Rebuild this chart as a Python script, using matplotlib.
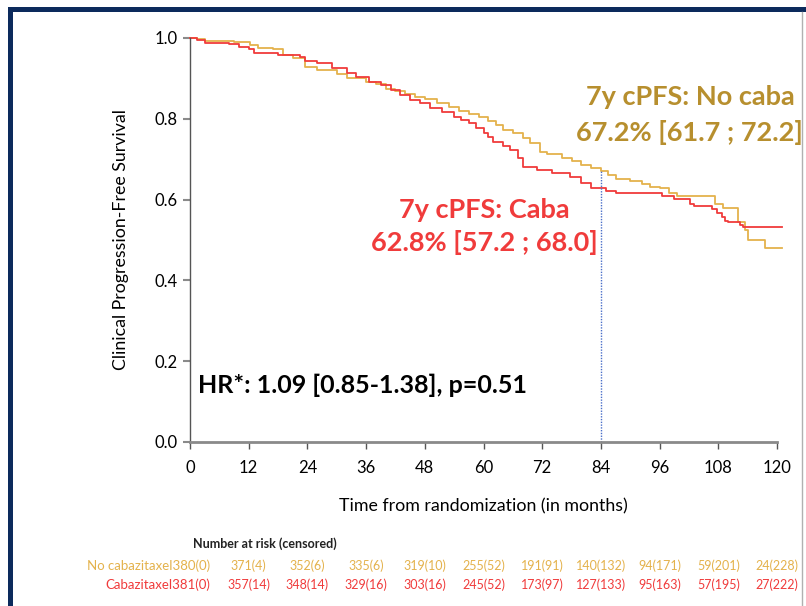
import matplotlib
matplotlib.use("Agg")
import matplotlib.pyplot as plt
from matplotlib.patches import Rectangle
from matplotlib.lines import Line2D

plt.rcParams['font.family'] = ['Lato', 'DejaVu Sans']

# --- data ---
no_caba_t = [0, 1.5, 3, 9, 12.3, 14, 17, 19, 21, 23.5, 26, 30, 32, 36, 38, 40, 42, 44, 46, 48,
             50.5, 53, 55, 57, 59, 61, 62.5, 64, 66, 68, 69.5, 71.5, 73, 76, 78, 80, 82, 84,
             85.5, 87, 90, 92.5, 94, 96, 98, 99.5, 107.3, 109, 112, 113.5, 114, 117.5, 121]
no_caba_s = [1.0, 0.997, 0.993, 0.991, 0.983, 0.975, 0.972, 0.958, 0.95, 0.928, 0.92, 0.912, 0.90,
             0.89, 0.885, 0.875, 0.868, 0.862, 0.855, 0.848, 0.84, 0.83, 0.82, 0.812, 0.805, 0.795,
             0.785, 0.772, 0.765, 0.752, 0.74, 0.718, 0.712, 0.703, 0.695, 0.686, 0.678, 0.672,
             0.66, 0.65, 0.645, 0.638, 0.632, 0.628, 0.616, 0.609, 0.59, 0.578, 0.545, 0.525,
             0.50, 0.48, 0.48]

caba_t = [0, 1.5, 3, 8, 10, 12, 13, 18, 22.5, 23.5, 26, 29, 32, 34, 36.5, 39, 41, 43, 45, 47, 49,
          51.5, 54, 55.5, 57, 58.5, 60, 61, 62, 64, 65.4, 67, 68, 71, 74, 77.7, 80, 82, 85, 87,
          96.5, 99, 102.3, 103, 106.7, 107.7, 108.7, 109.4, 110, 112.5, 113, 121]
caba_s = [1.0, 0.995, 0.988, 0.985, 0.978, 0.973, 0.964, 0.958, 0.954, 0.944, 0.937, 0.926, 0.914,
          0.904, 0.892, 0.884, 0.871, 0.86, 0.847, 0.838, 0.827, 0.817, 0.805, 0.798, 0.79, 0.778,
          0.765, 0.755, 0.743, 0.733, 0.723, 0.703, 0.681, 0.673, 0.666, 0.656, 0.64, 0.628,
          0.621, 0.616, 0.609, 0.601, 0.59, 0.584, 0.577, 0.567, 0.557, 0.547, 0.545, 0.537,
          0.532, 0.532]

landmark_month = 84
landmark_no_caba = 0.672

x_ticks = [0, 12, 24, 36, 48, 60, 72, 84, 96, 108, 120]
y_ticks = [0.0, 0.2, 0.4, 0.6, 0.8, 1.0]

risk_no_caba = ["371(4)", "352(6)", "335(6)", "319(10)", "255(52)", "191(91)",
                "140(132)", "94(171)", "59(201)", "24(228)"]
risk_caba = ["357(14)", "348(14)", "329(16)", "303(16)", "245(52)", "173(97)",
             "127(133)", "95(163)", "57(195)", "27(222)"]

GOLD = '#E4B24C'
GOLD_DARK = '#B78F2E'
RED = '#F03B3B'

fig = plt.figure(figsize=(8.06, 6.06), dpi=100)
ax = fig.add_axes([190 / 806, 1 - 442 / 606, (777 - 190) / 806, (442 - 38) / 606])

ax.step(no_caba_t, no_caba_s, where='post', color=GOLD, lw=1.3, clip_on=False)
ax.step(caba_t, caba_s, where='post', color=RED, lw=1.3, clip_on=False)
ax.plot([landmark_month, landmark_month], [0, landmark_no_caba], color='#4a6fc9',
        lw=1.0, ls=(0, (1, 1)))

ax.set_xlim(0, 120)
ax.set_ylim(0, 1.0)
ax.set_xticks(x_ticks)
ax.set_yticks(y_ticks)
ax.set_yticklabels([f"{v:.1f}" for v in y_ticks])
for s in ['top', 'right']:
    ax.spines[s].set_visible(False)
ax.spines['left'].set_color('#555555')
ax.spines['left'].set_linewidth(1.0)
ax.spines['bottom'].set_color('#8a8a8a')
ax.spines['bottom'].set_linewidth(2.0)
ax.tick_params(axis='x', length=5, width=1, color='#555555', labelsize=12, pad=8)
ax.tick_params(axis='y', length=5, width=1.5, color='#8a8a8a', labelsize=12, pad=4)

ax.set_xlabel("Time from randomization (in months)", fontsize=12.8, labelpad=16)
ax.set_ylabel("Clinical Progression-Free Survival", fontsize=12.8, labelpad=18)

# annotations
ax.text(102.2, 0.854, "7y cPFS: No caba", color=GOLD_DARK, fontsize=19.5, fontweight='bold',
        ha='center', va='center')
ax.text(102.0, 0.767, "67.2% [61.7 ; 72.2]", color=GOLD_DARK, fontsize=19.5, fontweight='bold',
        ha='center', va='center')
ax.text(60.1, 0.574, "7y cPFS: Caba", color=RED, fontsize=19.5, fontweight='bold',
        ha='center', va='center')
ax.text(60.1, 0.493, "62.8% [57.2 ; 68.0]", color=RED, fontsize=19.5, fontweight='bold',
        ha='center', va='center')
ax.text(1.6, 0.141, "HR*: 1.09 [0.85-1.38], p=0.51", color='black', fontsize=18,
        fontweight='bold', ha='left', va='center')

# number at risk table
fig.text(193 / 806, 1 - 544 / 606, "Number at risk (censored)", fontsize=9,
         fontweight='bold', ha='left', va='center', color='#222222')
row_y = [1 - 566 / 606, 1 - 585 / 606]
fig.text(210 / 806, row_y[0], "No cabazitaxel380(0)", fontsize=9.5, color=GOLD,
         ha='right', va='center')
fig.text(210 / 806, row_y[1], "Cabazitaxel381(0)", fontsize=9.5, color=RED,
         ha='right', va='center')
for t, a, b in zip(x_ticks[1:], risk_no_caba, risk_caba):
    xf = (190 + t * (777 - 190) / 120) / 806
    fig.text(xf, row_y[0], a, fontsize=9, color=GOLD, ha='center', va='center')
    fig.text(xf, row_y[1], b, fontsize=9, color=RED, ha='center', va='center')

# slide frame
W, H = 806, 606
fig.add_artist(Rectangle((8 / W, 1 - 12 / H), 1, 5 / H, transform=fig.transFigure,
                         color='#0c2a5c', lw=0))
fig.add_artist(Rectangle((8 / W, 0), 5 / W, 1 - 7 / H, transform=fig.transFigure,
                         color='#0c2a5c', lw=0))
fig.add_artist(Line2D([802 / W, 802 / W], [0, 1 - 12 / H], transform=fig.transFigure,
                      color='#b0b0b0', lw=1))

fig.savefig("out.png", dpi=100)
